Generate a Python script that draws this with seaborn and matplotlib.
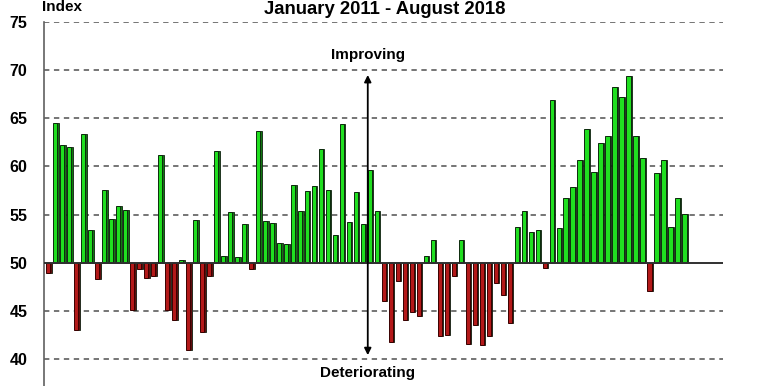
import matplotlib
matplotlib.use("Agg")
import matplotlib.pyplot as plt
from matplotlib.ticker import FuncFormatter
import numpy as np
import pandas as pd
import seaborn as sns

# monthly index, Jan 2011 .. Aug 2018 (92 months), 50 = neutral
index_values = [
    48.9, 64.5, 62.2, 62.0, 43.0, 63.4, 53.4, 48.3, 57.6, 54.5, 55.9, 55.5,   # 2011
    45.1, 49.4, 48.4, 48.6, 61.2, 45.1, 44.1, 50.3, 40.9, 54.4, 42.8, 48.6,   # 2012
    61.6, 50.7, 55.3, 50.6, 54.0, 49.4, 63.7, 54.3, 54.1, 52.1, 51.9, 58.1,   # 2013
    55.4, 57.4, 58.0, 61.8, 57.6, 52.9, 64.4, 54.2, 57.3, 54.0, 59.6, 55.4,   # 2014
    46.0, 41.8, 48.1, 44.1, 44.9, 44.5, 50.7, 52.4, 42.4, 42.5, 48.6, 52.4,   # 2015
    41.6, 43.5, 41.5, 42.4, 47.9, 46.7, 43.7, 53.7, 55.4, 53.2, 53.4, 49.5,   # 2016
    66.9, 53.6, 56.7, 57.9, 60.7, 63.9, 59.4, 62.4, 63.2, 68.2, 67.2, 69.4,   # 2017
    63.2, 60.9, 47.1, 59.3, 60.7, 53.7, 56.7, 55.1,                           # 2018
]
neutral = 50
y_ticks = [40, 45, 50, 55, 60, 65, 70, 75]
title = "January 2011 - August 2018"

df = pd.DataFrame({"month": np.arange(len(index_values)),
                   "value": index_values})
df["change"] = df["value"] - neutral
df["side"] = np.where(df["change"] >= 0, "up", "down")
df["month_side"] = df["month"] + 0.2   # pseudo-3D side face

sns.set_theme(style="white")
plt.rcParams["font.family"] = ["Liberation Sans", "DejaVu Sans"]
plt.rcParams["text.color"] = "black"

fig = plt.figure(figsize=(7.7, 3.86), dpi=100)
ax = fig.add_axes([44 / 770, 0, (723 - 44) / 770, 1 - 22 / 386])

# dashed gridlines behind bars
for t in y_ticks:
    if t != neutral:
        ax.axhline(t - neutral, color="#505050", lw=1.1, ls=(0, (3.5, 3)), zorder=0)

# side faces first, then front faces
sns.barplot(data=df, x="month_side", y="change", hue="side", native_scale=True,
            palette={"up": "#008800", "down": "#6a0000"}, width=0.62,
            dodge=False, legend=False, edgecolor="#102010", linewidth=0.6,
            ax=ax, zorder=1)
n_side = len(ax.patches)
sns.barplot(data=df, x="month", y="change", hue="side", native_scale=True,
            palette={"up": "#00ff00", "down": "#cc0000"}, width=0.62,
            dodge=False, legend=False, edgecolor="#0d2a0d", linewidth=0.7,
            ax=ax, zorder=2)
for p in ax.patches[n_side:]:
    p.set_zorder(2)
    if p.get_height() < 0:
        p.set_edgecolor("#3a0000")

ax.axhline(0, color="#303030", lw=1.4, zorder=3)

ax.set_xlim(-0.6, 96.5)
ax.set_ylim(37.2 - neutral, 75 - neutral)
ax.set_yticks([t - neutral for t in y_ticks])
ax.yaxis.set_major_formatter(FuncFormatter(lambda v, _: f"{v + neutral:.0f}"))
ax.tick_params(axis="y", length=0, pad=12, labelsize=11.5, labelcolor="black")
for lbl in ax.get_yticklabels():
    lbl.set_fontweight("bold")
ax.set_xticks([])
ax.set_xlabel("")
ax.set_ylabel("")
for s in ["top", "right", "bottom"]:
    ax.spines[s].set_visible(False)
ax.spines["left"].set_color("#606060")
ax.spines["left"].set_linewidth(1.2)

# improving / deteriorating arrow
ax.annotate("", xy=(45.7, 69.5 - neutral), xytext=(45.7, 40.4 - neutral),
            arrowprops=dict(arrowstyle="<|-|>", color="black", lw=1.3,
                            mutation_scale=10, shrinkA=0, shrinkB=0), zorder=4)
ax.text(45.7, 71.6 - neutral, "Improving", ha="center", va="center",
        fontsize=11, fontweight="bold")
ax.text(45.7, 38.5 - neutral, "Deteriorating", ha="center", va="center",
        fontsize=11, fontweight="bold")

fig.text(42 / 770, 1 - 7 / 386, "Index", ha="left", va="center",
         fontsize=11, fontweight="bold")
fig.text(385 / 770, 1 - 9 / 386, title, ha="center", va="center",
         fontsize=13.3, fontweight="bold")

fig.savefig("out.png", dpi=100)
